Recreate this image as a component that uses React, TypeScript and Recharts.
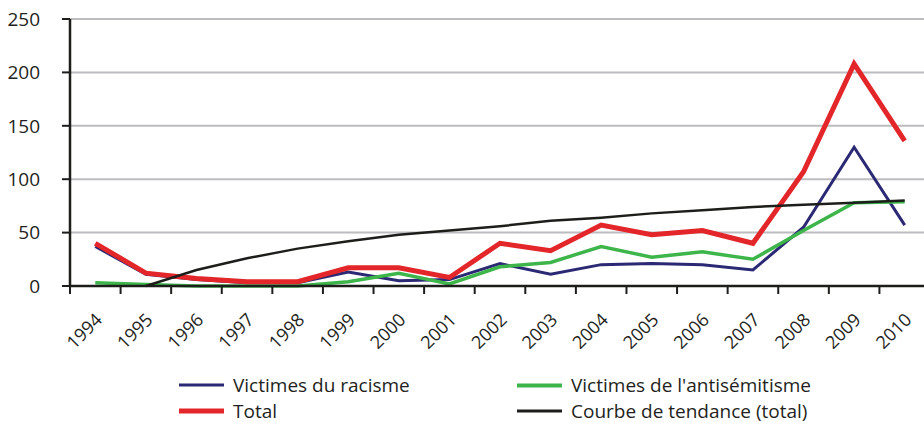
import React from 'react';
import { LineChart, Line, XAxis, YAxis, CartesianGrid, Legend } from 'recharts';

const years = ['1994', '1995', '1996', '1997', '1998', '1999', '2000', '2001', '2002', '2003', '2004', '2005', '2006', '2007', '2008', '2009', '2010'];
const racisme = [37, 11, 6, 3, 3, 13, 5, 6, 21, 11, 20, 21, 20, 15, 55, 130, 57];
const antisemitisme = [3, 1.5, 0, 0, 0, 4, 12, 2, 18, 22, 37, 27, 32, 25, 52, 78, 79];
const total = [40, 12, 7, 4, 4, 17, 17, 8, 40, 33, 57, 48, 52, 40, 107, 208, 136];
const tendance = [null, 0, 15, 26, 35, 42, 48, 52, 56, 61, 64, 68, 71, 74, 76, 78, 80];
const yTicks = [0, 50, 100, 150, 200, 250];

const data = years.map((year, i) => ({
  year,
  racisme: racisme[i],
  antisemitisme: antisemitisme[i],
  total: total[i],
  tendance: tendance[i],
}));

const FONT = '"Open Sans", sans-serif';
const TEXT = '#231f20';
const CHART_W = 940;
const PLOT_LEFT = 70;
const PLOT_RIGHT = 10;
const BAND = (CHART_W - PLOT_LEFT - PLOT_RIGHT) / years.length;

const legendItems = [
  { label: 'Victimes du racisme', color: '#2b2874', width: 3, left: 179, top: 23 },
  { label: "Victimes de l'antisémitisme", color: '#3db54a', width: 4, left: 517, top: 23 },
  { label: 'Total', color: '#e3262a', width: 5, left: 179, top: 49 },
  { label: 'Courbe de tendance (total)', color: '#1d1d1b', width: 3, left: 517, top: 49 },
];

function YearTick(props: any) {
  const { x, y, payload } = props;
  return (
    <g>
      <line x1={x - BAND / 2} x2={x - BAND / 2} y1={y} y2={y + 8} stroke="#1d1d1b" strokeWidth={2} />
      <text
        transform={`translate(${x + 8},${y + 35}) rotate(-45)`}
        textAnchor="end"
        fontSize={18}
        fontFamily={FONT}
        fill={TEXT}
      >
        {payload.value}
      </text>
    </g>
  );
}

function renderLegend() {
  return (
    <div style={{ position: 'relative', height: 60, fontFamily: FONT, fontSize: 19, lineHeight: 1, color: TEXT }}>
      {legendItems.map((item) => (
        <div
          key={item.label}
          style={{
            position: 'absolute',
            left: item.left,
            top: item.top,
            transform: 'translateY(-50%)',
            display: 'flex',
            alignItems: 'center',
            whiteSpace: 'nowrap',
          }}
        >
          <span style={{ display: 'inline-block', width: 45, height: item.width, background: item.color, marginRight: 9 }} />
          <span>{item.label}</span>
        </div>
      ))}
    </div>
  );
}

export default function App() {
  return (
    <div style={{ position: 'absolute', left: 0, top: 0, width: 924, height: 422, overflow: 'hidden', background: '#fff' }}>
      <LineChart width={CHART_W} height={422} data={data} margin={{ top: 19, right: PLOT_RIGHT, left: 0, bottom: 0 }}>
        <CartesianGrid vertical={false} stroke="#bcbcc1" strokeWidth={2} />
        <XAxis
          dataKey="year"
          scale="band"
          height={76}
          interval={0}
          tickSize={0}
          tickMargin={0}
          tickLine={false}
          axisLine={{ stroke: '#1d1d1b', strokeWidth: 2.5 }}
          tick={<YearTick />}
        />
        <YAxis
          width={PLOT_LEFT}
          domain={[0, 250]}
          ticks={yTicks}
          interval={0}
          tickSize={8}
          tickMargin={22}
          axisLine={{ stroke: '#1d1d1b', strokeWidth: 2.5 }}
          tickLine={{ stroke: '#1d1d1b', strokeWidth: 2 }}
          tick={{ fill: TEXT, fontSize: 19, fontFamily: FONT }}
        />
        <Legend verticalAlign="bottom" height={60} content={renderLegend} />
        <Line dataKey="racisme" name="Victimes du racisme" stroke="#2b2874" strokeWidth={3} dot={false} isAnimationActive={false} />
        <Line dataKey="antisemitisme" name="Victimes de l'antisémitisme" stroke="#3db54a" strokeWidth={3.5} dot={false} isAnimationActive={false} />
        <Line dataKey="total" name="Total" stroke="#e3262a" strokeWidth={5} dot={false} isAnimationActive={false} />
        <Line dataKey="tendance" name="Courbe de tendance (total)" stroke="#1d1d1b" strokeWidth={2.5} dot={false} isAnimationActive={false} />
      </LineChart>
    </div>
  );
}
